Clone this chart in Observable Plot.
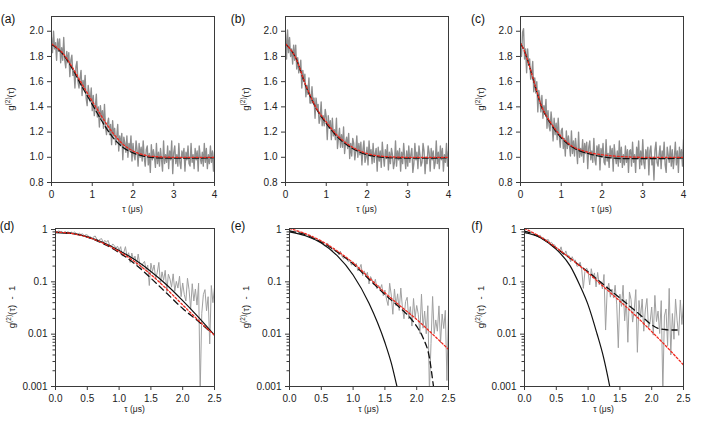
<!DOCTYPE html>
<html><head><meta charset="utf-8">
<script src="https://cdn.jsdelivr.net/npm/d3@7"></script>
<script src="https://cdn.jsdelivr.net/npm/@observablehq/plot@0.6"></script>
<style>
html,body{margin:0;padding:0;background:#fff;}
#fig{position:relative;width:705px;height:422px;overflow:hidden;background:#fff;}
#fig svg{position:absolute;}
</style></head><body><div id="fig"></div>
<script>
// ---------- measured g2(tau) traces, top row (tau step 0.025 us, 0..4 us) ----------
const topStep = 0.025;
const dataA = [1.95,1.83,2.00,1.86,1.91,1.77,1.94,1.84,1.94,1.75,
1.87,1.77,1.95,1.77,1.71,1.84,1.75,1.83,1.64,1.77,
1.81,1.65,1.69,1.55,1.72,1.76,1.60,1.55,1.63,1.69,
1.49,1.61,1.54,1.65,1.47,1.41,1.57,1.50,1.44,1.55,
1.37,1.49,1.33,1.40,1.50,1.32,1.40,1.24,1.41,1.31,
1.37,1.23,1.42,1.24,1.18,1.27,1.31,1.18,1.26,1.10,
1.29,1.17,1.23,1.10,1.16,1.26,1.05,1.17,1.09,1.19,
0.98,1.16,1.11,1.04,1.17,1.00,1.11,1.05,1.17,0.97,
1.11,1.02,0.98,1.13,1.06,0.93,1.11,1.00,1.08,0.97,
1.13,1.00,0.93,1.06,1.09,0.94,1.03,0.88,1.10,0.98,
1.06,1.01,0.92,1.11,0.95,1.04,0.93,1.07,0.98,0.89,
1.13,0.95,1.02,0.96,1.09,0.91,1.05,0.98,1.13,0.87,
1.04,1.09,0.95,1.02,0.93,1.11,0.96,0.91,1.05,1.00,
1.07,0.89,1.04,0.98,1.09,0.95,0.93,1.11,0.96,1.02,
0.91,1.07,0.98,1.05,0.89,1.09,1.00,0.95,1.04,0.93,
1.11,0.96,1.07,0.91,1.02,0.95,1.09,0.96,1.05,0.89,
1.04];
const dataB = [1.98,1.78,2.01,1.83,1.95,1.80,1.86,1.74,1.89,1.77,
1.89,1.70,1.79,1.67,1.71,1.77,1.55,1.69,1.60,1.66,
1.48,1.57,1.50,1.63,1.43,1.43,1.56,1.43,1.47,1.31,
1.47,1.39,1.42,1.27,1.31,1.44,1.25,1.33,1.25,1.38,
1.32,1.14,1.33,1.23,1.29,1.14,1.31,1.17,1.22,1.14,
1.31,1.07,1.15,1.23,1.08,1.18,1.08,1.24,1.03,1.12,
1.16,1.07,1.19,0.99,1.11,1.01,1.15,1.11,0.98,1.05,
1.17,1.00,1.11,1.02,1.12,0.94,1.06,1.13,0.96,1.00,
1.08,0.94,1.13,1.01,1.06,0.95,1.11,0.96,1.03,1.07,
0.89,1.08,0.97,1.05,0.92,1.12,1.01,0.93,1.06,0.99,
1.10,0.90,1.04,0.95,1.07,1.02,0.91,0.96,1.13,0.93,
1.05,0.98,1.07,0.89,1.04,0.95,1.11,1.00,0.91,1.05,
0.93,1.09,0.96,1.02,1.07,0.88,0.95,1.11,0.98,1.04,
0.91,1.09,1.02,0.93,0.96,1.11,1.05,0.87,1.00,0.95,
1.09,1.04,0.89,1.07,0.98,1.05,0.91,0.96,1.13,0.95,
1.04,0.91,1.09,0.98,1.07,0.89,1.02,0.96,1.11,0.93,
1.05];
const dataC = [1.86,1.80,1.99,2.02,1.78,1.86,1.67,1.86,1.73,1.78,
1.62,1.66,1.76,1.52,1.63,1.51,1.60,1.36,1.53,1.46,
1.36,1.49,1.31,1.41,1.34,1.46,1.23,1.37,1.25,1.21,
1.36,1.27,1.13,1.31,1.18,1.27,1.14,1.31,1.17,1.08,
1.21,1.23,1.07,1.15,1.01,1.21,1.07,1.17,1.10,1.01,
1.21,1.03,1.13,1.01,1.15,1.06,0.95,1.20,1.00,1.07,
1.01,1.14,0.96,1.11,1.03,1.12,0.91,1.08,1.13,0.98,
1.05,0.96,1.15,0.98,0.94,1.09,1.03,1.10,0.90,1.07,
1.00,1.11,0.96,0.94,1.14,0.97,1.03,0.92,1.09,1.00,
1.07,0.89,1.10,1.01,0.95,1.05,0.93,1.13,0.96,1.08,
0.92,1.02,0.94,1.09,0.96,1.06,0.88,1.05,1.06,0.93,
1.12,0.96,1.02,0.88,1.08,0.99,1.13,0.91,1.05,0.94,
1.14,0.96,0.91,1.06,0.99,1.08,0.86,1.05,1.09,0.94,
1.00,0.82,1.06,1.12,0.96,0.93,1.02,1.09,0.91,1.05,
0.99,1.12,0.94,0.88,1.08,1.02,0.96,1.09,0.93,1.06,
0.91,1.00,1.12,0.94,1.05,0.88,1.08,0.99,1.06,0.93,
1.14];

// ---------- fits, top row ----------
const fitTauAB = [0,0.25,0.5,0.75,1,1.25,1.5,1.75,2,2.25,2.5,3,3.5,4];
const fitA_black = [1.895,1.83,1.71,1.56,1.42,1.28,1.16,1.08,1.035,1.01,0.997,0.993,0.993,0.997];
const fitA_red   = [1.90,1.835,1.72,1.58,1.445,1.315,1.195,1.105,1.05,1.02,1.007,1.0,1.0,1.0];
const fitB_black = [1.90,1.79,1.565,1.39,1.27,1.17,1.10,1.052,1.02,1.005,0.997,0.994,0.994,0.996];
const fitB_red   = [1.90,1.79,1.57,1.395,1.28,1.18,1.11,1.062,1.03,1.013,1.005,1.0,1.0,1.0];
const fitTauC = [0,0.1,0.2,0.3,0.4,0.5,0.6,0.75,1.0,1.25,1.5,1.75,2.0,2.5,3,3.5,4];
const fitC_black = [1.905,1.84,1.745,1.63,1.52,1.415,1.345,1.262,1.155,1.085,1.045,1.022,1.005,0.99,0.99,0.99,0.995];
const fitC_red   = [1.905,1.84,1.745,1.635,1.525,1.42,1.35,1.27,1.165,1.092,1.055,1.033,1.02,1.005,1.0,1.0,1.0];

// ---------- measured g2-1 traces, bottom row (tau step 0.025 us, 0..2.5 us) ----------
const botStep = 0.025;
const dataD = [0.93,0.88,0.95,0.89,0.91,0.86,0.92,0.87,0.91,0.84,
0.89,0.85,0.90,0.83,0.81,0.85,0.80,0.83,0.76,0.79,
0.79,0.72,0.73,0.65,0.73,0.75,0.65,0.62,0.65,0.67,
0.56,0.62,0.57,0.62,0.51,0.47,0.53,0.49,0.44,0.48,
0.40,0.47,0.31,0.37,0.47,0.30,0.36,0.235,0.355,0.267,
0.31,0.21,0.34,0.214,0.179,0.225,0.246,0.171,0.208,0.085,
0.227,0.158,0.21,0.114,0.151,0.235,0.092,0.155,0.107,0.166,
0.065,0.14,0.113,0.079,0.142,0.066,0.102,0.076,0.128,0.052,
0.095,0.057,0.043,0.117,0.071,0.03,0.092,0.043,0.073,0.036,
0.094,0.0008,0.025,0.057,0.071,0.028,0.052,0.0065,0.085,0.04,
0.078];
const dataE = [0.97,0.90,0.92,0.855,0.925,0.935,0.855,0.825,0.85,0.86,
0.765,0.795,0.755,0.775,0.69,0.65,0.685,0.645,0.605,0.62,
0.55,0.58,0.485,0.51,0.545,0.445,0.465,0.385,0.44,0.383,
0.39,0.33,0.387,0.308,0.278,0.295,0.29,0.244,0.254,0.208,
0.241,0.202,0.225,0.162,0.18,0.215,0.132,0.162,0.13,0.152,
0.091,0.126,0.109,0.087,0.112,0.0735,0.0864,0.072,0.0886,0.0543,
0.0698,0.0468,0.0353,0.094,0.056,0.024,0.073,0.035,0.059,0.0284,
0.076,0.0325,0.0197,0.042,0.0506,0.0195,0.0336,0.0143,0.048,0.0206,
0.0353,0.024,0.0103,0.058,0.013,0.0276,0.0102,0.035,0.0008,0.0066,
0.0525,0.0102,0.0187,0.0114,0.0347,0.0068,0.0243,0.0128,0.0285,0.0013,
0.028];
const dataF = [0.92,0.83,0.91,0.85,0.91,0.81,0.83,0.755,0.815,0.733,
0.772,0.668,0.696,0.633,0.63,0.641,0.541,0.569,0.514,0.508,
0.425,0.442,0.388,0.466,0.34,0.331,0.39,0.311,0.317,0.241,
0.302,0.255,0.261,0.198,0.203,0.238,0.17,0.075,0.156,0.184,
0.159,0.0876,0.178,0.118,0.148,0.08,0.151,0.088,0.102,0.073,
0.138,0.012,0.07,0.094,0.051,0.073,0.049,0.086,0.0375,0.0055,
0.058,0.034,0.086,0.018,0.046,0.007,0.064,0.046,0.017,0.029,
0.071,0.0045,0.044,0.021,0.047,0.0114,0.029,0.048,0.0132,0.0171,
0.033,0.0096,0.055,0.0174,0.0276,0.0103,0.0437,0.0008,0.0223,0.0303,
0.006,0.075,0.004,0.0248,0.008,0.047,0.018,0.0095,0.045,0.0153,
0.04];

// ---------- fits, bottom row ----------
const fitTauD = [0,0.25,0.5,0.75,1,1.25,1.5,1.75,2,2.25,2.5];
const fitD_solid = [0.875,0.841,0.724,0.562,0.398,0.263,0.158,0.0871,0.0437,0.0209,0.00955];
const fitD_red   = [0.891,0.841,0.716,0.55,0.38,0.24,0.138,0.0724,0.0363,0.0182,0.00955];
const fitTauD_dash = [0,0.25,0.5,0.75,1,1.25,1.5,1.75,2,2.25,2.45];
const fitD_dash  = [0.891,0.841,0.716,0.537,0.363,0.219,0.1175,0.0603,0.0309,0.0174,0.0107];

const fitTauE_solid = [0,0.25,0.5,0.75,1.0,1.25,1.5,1.6,1.69,1.75];
const fitE_solid = [0.902,0.759,0.550,0.316,0.135,0.0389,0.00692,0.00282,0.001,0.0005];
const fitTauE_red = [0,0.25,0.5,0.75,1,1.25,1.5,1.75,2,2.25,2.5];
const fitE_red = [1.047,0.832,0.603,0.389,0.232,0.120,0.0617,0.0339,0.0191,0.0100,0.00513];
const fitTauE_dash = [0,0.25,0.5,0.75,1,1.25,1.5,1.75,1.9,2.0,2.1,2.2,2.27,2.3];
const fitE_dash = [0.942,0.794,0.575,0.372,0.219,0.112,0.0575,0.0309,0.0204,0.0141,0.00851,0.00355,0.00089,0.0005];

const fitTauF_solid = [0,0.25,0.5,0.72,0.875,1.0,1.14,1.24,1.34,1.4];
const fitF_solid = [0.875,0.700,0.417,0.200,0.0832,0.0363,0.0102,0.00372,0.001,0.0004];
const fitTauF_red = [0,0.25,0.5,0.75,1,1.25,1.5,1.75,2,2.25,2.5];
const fitF_red = [1.047,0.724,0.447,0.263,0.148,0.0794,0.0427,0.0224,0.0112,0.0055,0.00257];
const fitTauF_dash = [0,0.25,0.5,0.75,1,1.25,1.5,1.75,1.9,2.0,2.1,2.2,2.3,2.4];
const fitF_dash = [0.933,0.708,0.437,0.263,0.155,0.0871,0.049,0.0275,0.0191,0.0151,0.0129,0.0123,0.012,0.012];

// ---------- ticks / labels ----------
const topXTicks = [0,1,2,3,4];
const topYTicks = [0.8,1.0,1.2,1.4,1.6,1.8,2.0];
const botXTicks = [0,0.5,1.0,1.5,2.0,2.5];
const botYTicks = [1,0.1,0.01,0.001];
const botYMinor = [0.002,0.003,0.004,0.005,0.006,0.007,0.008,0.009,
  0.02,0.03,0.04,0.05,0.06,0.07,0.08,0.09,0.2,0.3,0.4,0.5,0.6,0.7,0.8,0.9];
const panelLabels = ["(a)","(b)","(c)","(d)","(e)","(f)"];

const FONT = '"Liberation Sans", Arial, Helvetica, sans-serif';
const GRAY = "#8e8e8e", GRAY2 = "#a0a0a0", RED = "#f0281e", BLACK = "#111";

function fitLine(xs, ys, color, dash, w) {
  return Plot.line(ys, {x: (d, i) => xs[i], y: d => d, stroke: color, strokeWidth: w,
    strokeDasharray: dash, curve: "monotone-x", clip: true});
}

function panel(p) {
  const marks = [
    Plot.line(p.data, {x: (d, i) => i * p.step, y: d => d, stroke: p.log ? GRAY2 : GRAY,
      strokeWidth: p.log ? 1 : 1.35, clip: true}),
    ...p.fits,
    Plot.frame({stroke: "#3a3a3a", strokeWidth: 1}),
    Plot.axisX({ticks: p.xTicks, tickSize: 4, tickPadding: 4, tickFormat: p.xFormat, label: null, stroke: "#3a3a3a"}),
    Plot.axisY({ticks: p.yTicks, tickSize: 4, tickPadding: 4, tickFormat: p.yFormat, label: null, stroke: "#3a3a3a"})
  ];
  if (p.log) marks.push(Plot.axisY({ticks: botYMinor, tickSize: 2.5, tickFormat: () => "", label: null, stroke: "#3a3a3a"}));
  const svg = Plot.plot({
    width: p.w, height: p.h,
    marginLeft: p.ml, marginRight: p.mr, marginTop: p.mt, marginBottom: p.mb,
    x: {domain: p.xDomain},
    y: p.log ? {type: "log", domain: p.yDomain} : {domain: p.yDomain},
    style: {fontFamily: FONT, fontSize: "10px", color: "#222", background: "transparent", overflow: "visible"},
    marks
  });
  svg.style.left = p.left + "px";
  svg.style.top = p.top + "px";
  svg.style.maxWidth = "none";
  const s = d3.select(svg);
  s.append("text").attr("x", p.labX).attr("y", p.labY).attr("font-family", FONT)
    .attr("font-size", 12).attr("fill", "#111").text(p.label);
  const xc = p.ml + (p.w - p.ml - p.mr) / 2;
  s.append("text").attr("x", xc).attr("y", p.h - p.xlabOff).attr("text-anchor", "middle")
    .attr("font-family", FONT).attr("font-size", 8.5).attr("fill", "#222").text("τ (μs)");
  const yc = p.mt + (p.h - p.mt - p.mb) / 2;
  const t = s.append("text").attr("transform", `translate(${p.ylabX},${yc}) rotate(-90)`)
    .attr("text-anchor", "middle").attr("font-family", FONT).attr("font-size", 9.5).attr("fill", "#222");
  t.append("tspan").text("g");
  t.append("tspan").attr("font-size", 6.5).attr("dy", -4.5).text("(2)");
  t.append("tspan").attr("dy", 4.5).text(p.log ? "(τ)  -  1" : "(τ)");
  document.getElementById("fig").appendChild(svg);
}

const topCommon = {w: 235, h: 215, mt: 16, mb: 33, step: topStep, xDomain: [0, 4], yDomain: [0.8, 2.117],
  xTicks: topXTicks, yTicks: topYTicks, xFormat: d => String(d), yFormat: d3.format(".1f"), log: false,
  labY: 23, xlabOff: 3, top: 0};
const botCommon = {w: 235, h: 207, mt: 13, mb: 36, step: botStep, xDomain: [0, 2.5], yDomain: [0.001, 1.045],
  xTicks: botXTicks, yTicks: botYTicks, xFormat: d3.format(".1f"), yFormat: d => String(d), log: true,
  labY: 15, xlabOff: 10, top: 215};

const DASH_T = "6,3", DASH_B = "6,4", DOT = "2,2";
panel({...topCommon, left: 0, ml: 51, mr: 21, data: dataA, label: panelLabels[0], labX: 8, ylabX: 14,
  fits: [fitLine(fitTauAB, fitA_black, BLACK, DASH_T, 1.3), fitLine(fitTauAB, fitA_red, RED, DOT, 1.3)]});
panel({...topCommon, left: 235, ml: 50, mr: 22, data: dataB, label: panelLabels[1], labX: 3, ylabX: 14,
  fits: [fitLine(fitTauAB, fitB_black, BLACK, DASH_T, 1.3), fitLine(fitTauAB, fitB_red, RED, DOT, 1.3)]});
panel({...topCommon, left: 470, ml: 50, mr: 22, data: dataC, label: panelLabels[2], labX: 8, ylabX: 14,
  fits: [fitLine(fitTauC, fitC_black, BLACK, DASH_T, 1.3), fitLine(fitTauC, fitC_red, RED, DOT, 1.3)]});

panel({...botCommon, left: 0, ml: 55, mr: 21, data: dataD, label: panelLabels[3], labX: 7, ylabX: 15,
  fits: [fitLine(fitTauD, fitD_solid, BLACK, null, 1.2), fitLine(fitTauD_dash, fitD_dash, BLACK, DASH_B, 1.3),
         fitLine(fitTauD, fitD_red, RED, DOT, 1.3)]});
panel({...botCommon, left: 235, ml: 54, mr: 22, data: dataE, label: panelLabels[4], labX: 3, ylabX: 14,
  fits: [fitLine(fitTauE_solid, fitE_solid, BLACK, null, 1.2), fitLine(fitTauE_dash, fitE_dash, BLACK, DASH_B, 1.3),
         fitLine(fitTauE_red, fitE_red, RED, DOT, 1.3)]});
panel({...botCommon, left: 470, ml: 54, mr: 22, data: dataF, label: panelLabels[5], labX: 7, ylabX: 14,
  fits: [fitLine(fitTauF_solid, fitF_solid, BLACK, null, 1.2), fitLine(fitTauF_dash, fitF_dash, BLACK, DASH_B, 1.3),
         fitLine(fitTauF_red, fitF_red, RED, DOT, 1.3)]});
</script></body></html>
